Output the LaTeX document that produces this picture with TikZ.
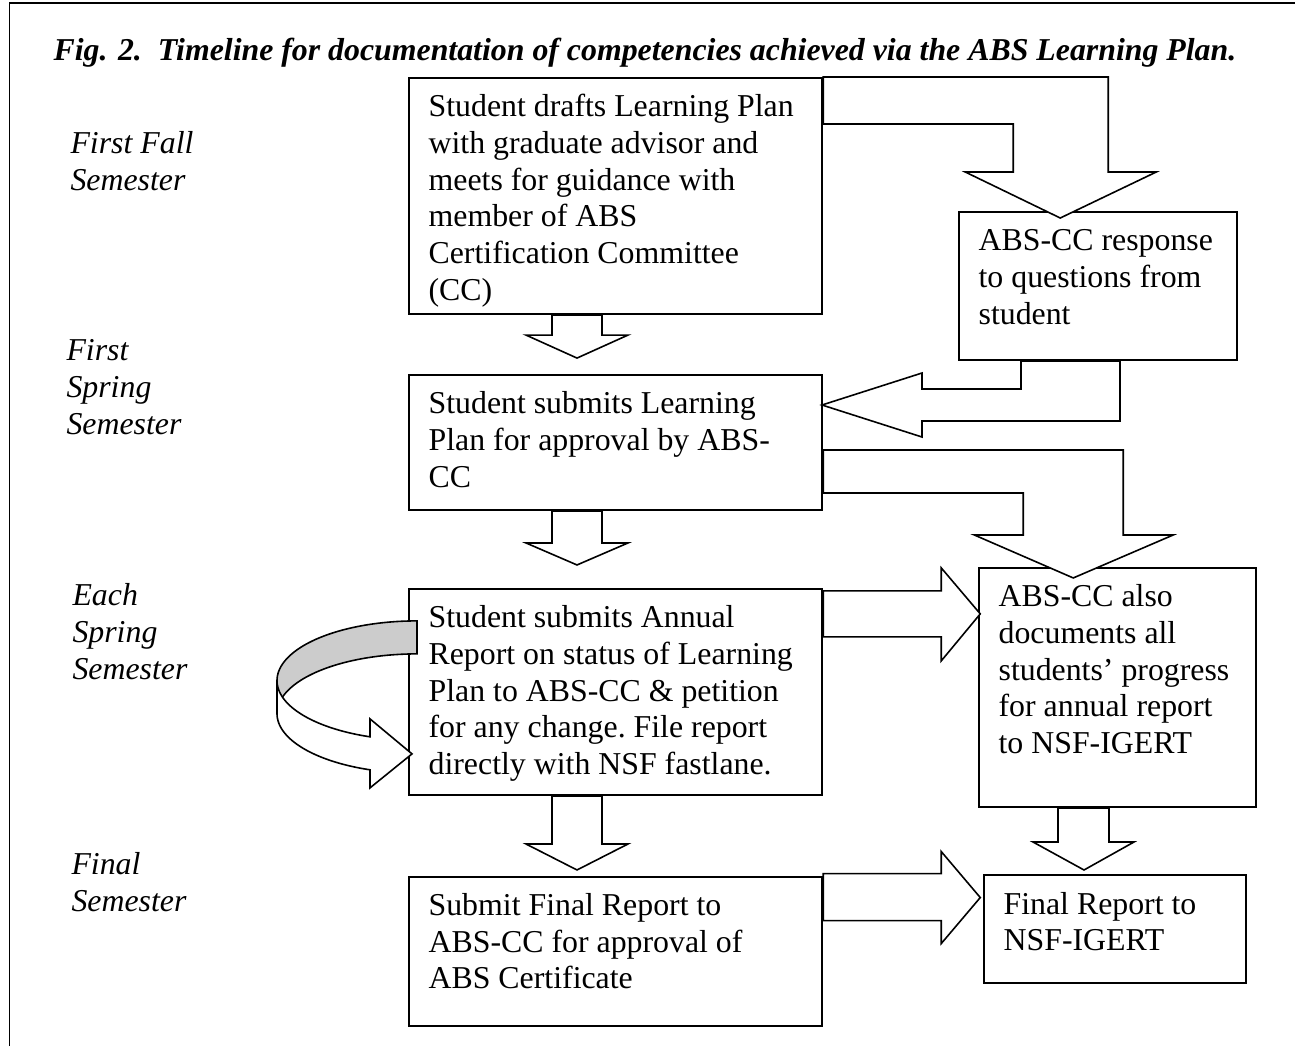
\documentclass[tikz,border=0pt]{standalone}
\usepackage{fontspec}
\setmainfont{Liberation Serif}
\usepackage{tikz}
\usetikzlibrary{positioning, calc}

\begin{document}
\begin{tikzpicture}[
  x=0.377pt, y=-0.377pt,
  box/.style={rectangle, draw, line width=0.75pt, anchor=north west, align=flush left, inner xsep=7.4pt, inner ysep=0pt, text height=14.7pt, font=\fontsize{12}{13.8}\selectfont\frenchspacing, execute at begin node={\spaceskip=0pt\xspaceskip=0pt}},
  sem/.style={anchor=base west, align=flush left, text width=90pt, inner sep=0pt, font=\fontsize{12}{14}\selectfont\itshape, execute at begin node={\spaceskip=0pt}},
  blk/.style={draw, line width=0.6pt, fill=white, line join=miter}
]
  \useasboundingbox (0,0) rectangle (1295,1046);
  \draw[line width=0.75pt] (9.5,1046) -- (9.5,3) -- (1295,3);

  \node[anchor=base west, inner sep=0pt, font=\fontsize{12}{14}\selectfont\bfseries\itshape] (title) at (53,60)
    {Fig. 2.\ \ Timeline for documentation of competencies achieved via the ABS Learning Plan.};

  % semester labels
  \node[sem] (fall) at (70,153) {First Fall\\Semester};
  \node[sem] (spring) at (66,360) {First\\Spring\\Semester};
  \node[sem] (each) at (72,605) {Each\\Spring\\Semester};
  \node[sem] (last) at (71,874) {Final\\Semester};

  % left column
  \node[box, text width=141pt, text depth=74.3pt] (drafts) at (408,77)
    {Student drafts Learning Plan\\with graduate advisor and\\meets for guidance with\\member of ABS\\Certification Committee\\(CC)};
  \node[box, text width=141pt, text depth=36.2pt, below=22.2pt of drafts.south west, anchor=north west] (submit)
    {Student submits Learning\\Plan for approval by ABS-\\CC};
  \node[box, text width=141pt, text depth=63pt, below=29pt of submit.south west, anchor=north west] (annual)
    {Student submits Annual\\Report on status of Learning\\Plan to ABS-CC \& petition\\for any change. File report\\directly with NSF fastlane.};
  \node[box, text width=141pt, text depth=41.8pt, below=30pt of annual.south west, anchor=north west] (final)
    {Submit Final Report to\\ABS-CC for approval of\\ABS Certificate};

  % right column
  \node[box, text width=90pt, text depth=41.1pt] (resp) at (958,211)
    {ABS-CC response\\to questions from\\student};
  \node[box, text width=89.6pt, text depth=75.4pt] (docs) at (978,567)
    {ABS-CC also\\documents all\\students’ progress\\for annual report\\to NSF-IGERT};
  \node[box, text width=84pt, text depth=26pt] (nsf) at (983,874)
    {Final Report to\\NSF-IGERT};

  % block arrows
  \draw[blk] (drafts.north east) -- ++(285,0) -- ++(0,95) -- ++(48,0) -- ++(-96,46) -- ++(-95,-46) -- ++(48,0) -- ++(0,-48) -- ++(-190,0) -- cycle;
  \draw[blk] ($(drafts.south west)+(144,0)$) -- ++(0,20) -- ++(-26,0) -- ++(51,23) -- ++(51,-23) -- ++(-26,0) -- ++(0,-20) -- cycle;
  \draw[blk] ($(resp.south west)+(63,0)$) -- ++(0,28) -- ++(-99,0) -- ++(0,-16) -- ++(-100,32) -- ++(100,32) -- ++(0,-16) -- ++(198,0) -- ++(0,-60) -- cycle;
  \draw[blk] ($(submit.north east)+(0,76)$) -- ++(300,0) -- ++(0,85) -- ++(50,0) -- ++(-100,43) -- ++(-99,-43) -- ++(49,0) -- ++(0,-42) -- ++(-200,0) -- cycle;
  \draw[blk] ($(submit.south west)+(144,0)$) -- ++(0,32) -- ++(-26,0) -- ++(51,22) -- ++(51,-22) -- ++(-26,0) -- ++(0,-32) -- cycle;
  \draw[blk] ($(annual.north east)+(0,3)$) -- ++(118,0) -- ++(0,-23) -- ++(39,46) -- ++(-39,47) -- ++(0,-24) -- ++(-118,0) -- cycle;
  \draw[blk] ($(annual.south west)+(144,0)$) -- ++(0,48) -- ++(-26,0) -- ++(51,26) -- ++(51,-26) -- ++(-26,0) -- ++(0,-48) -- cycle;
  \draw[blk] ($(docs.south west)+(80,0)$) -- ++(0,34) -- ++(-25,0) -- ++(51,28) -- ++(50,-28) -- ++(-25,0) -- ++(0,-34) -- cycle;
  \draw[blk] ($(final.north east)+(0,-2)$) -- ++(118,0) -- ++(0,-22) -- ++(39,46) -- ++(-39,46) -- ++(0,-23) -- ++(-118,0) -- cycle;

  % curved arrow back into the annual report
  \begin{scope}[shift={(annual.north west)}]
    \filldraw[blk, fill=black!20] plot[domain=90:180, samples=40] ({9+140*cos(\x)},{92.7-59.7*sin(\x)})
      -- plot[domain=180:90, samples=40] ({9+140*cos(\x)},{125.7-59.7*sin(\x)}) -- cycle;
    \filldraw[blk] plot[domain=180:250.4, samples=40] ({9+140*cos(\x)},{92.7-59.7*sin(\x)})
      -- (-38,131) -- (4,166) -- (-38,200)
      -- plot[domain=250.4:180, samples=40] ({9+140*cos(\x)},{125.7-59.7*sin(\x)}) -- cycle;
  \end{scope}
\end{tikzpicture}
\end{document}
